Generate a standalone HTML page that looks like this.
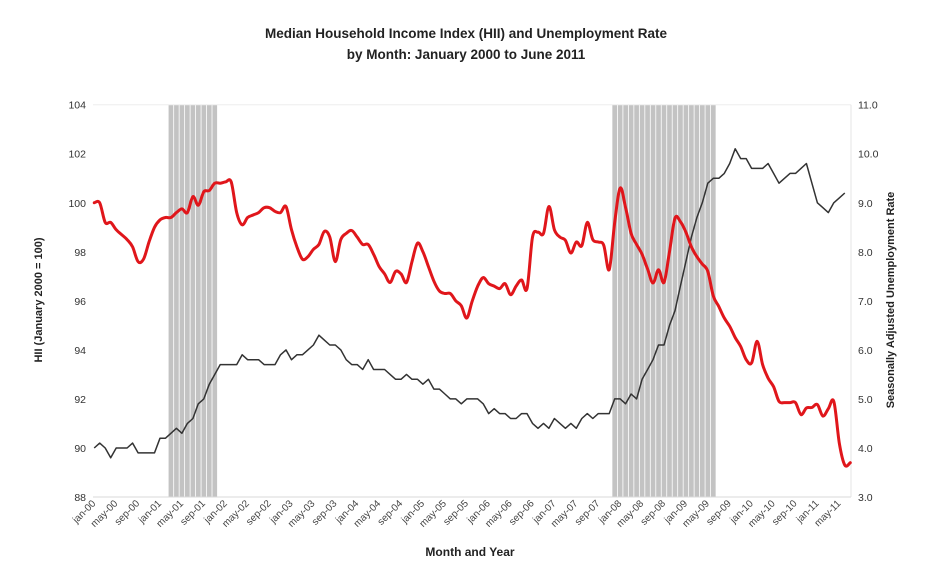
<!DOCTYPE html>
<html><head><meta charset="utf-8"><style>
body{margin:0;background:#fff;}
svg text{font-family:"Liberation Sans",sans-serif;}
</style></head><body>
<svg id="chart" width="933" height="575" viewBox="0 0 933 575" xmlns="http://www.w3.org/2000/svg">
<text x="466" y="38" text-anchor="middle" font-size="13.5" font-weight="bold" fill="#222">Median Household Income Index (HII) and Unemployment Rate</text>
<text x="466" y="59" text-anchor="middle" font-size="13.5" font-weight="bold" fill="#222">by Month: January 2000 to June 2011</text>
<text transform="translate(42,300) rotate(-90)" text-anchor="middle" font-size="11" font-weight="bold" fill="#222">HII (January 2000 = 100)</text>
<text transform="translate(894,300) rotate(-90)" text-anchor="middle" font-size="11" font-weight="bold" fill="#222">Seasonally Adjusted Unemployment Rate</text>
<text x="470" y="556" text-anchor="middle" font-size="12" font-weight="bold" fill="#222">Month and Year</text>
<g id="shade"></g>
<g id="axes"></g>
<g id="lines"></g>
</svg>
<script>
const hii=[100.0,100.0,99.2,99.2,98.9,98.7,98.5,98.2,97.6,97.7,98.4,99.0,99.3,99.4,99.4,99.6,99.75,99.6,100.25,99.9,100.45,100.5,100.8,100.8,100.85,100.85,99.6,99.1,99.4,99.5,99.6,99.8,99.8,99.65,99.6,99.85,98.9,98.2,97.7,97.8,98.1,98.3,98.83,98.6,97.6,98.5,98.75,98.87,98.6,98.3,98.3,97.9,97.4,97.1,96.75,97.2,97.1,96.75,97.6,98.35,98.0,97.4,96.8,96.4,96.3,96.3,96.0,95.8,95.3,96.0,96.6,96.95,96.7,96.6,96.5,96.7,96.25,96.6,96.85,96.5,98.6,98.8,98.75,99.85,98.9,98.6,98.47,97.95,98.4,98.25,99.2,98.5,98.4,98.27,97.27,99.2,100.6,99.8,98.75,98.3,97.9,97.3,96.73,97.27,96.75,98.0,99.37,99.23,98.8,98.2,97.8,97.5,97.2,96.2,95.77,95.3,94.96,94.5,94.14,93.6,93.47,94.35,93.4,92.85,92.5,91.9,91.85,91.85,91.85,91.36,91.63,91.65,91.77,91.3,91.6,91.9,90.2,89.3,89.4];
const unemp=[4.0,4.1,4.0,3.8,4.0,4.0,4.0,4.1,3.9,3.9,3.9,3.9,4.2,4.2,4.3,4.4,4.3,4.5,4.6,4.9,5.0,5.3,5.5,5.7,5.7,5.7,5.7,5.9,5.8,5.8,5.8,5.7,5.7,5.7,5.9,6.0,5.8,5.9,5.9,6.0,6.1,6.3,6.2,6.1,6.1,6.0,5.8,5.7,5.7,5.6,5.8,5.6,5.6,5.6,5.5,5.4,5.4,5.5,5.4,5.4,5.3,5.4,5.2,5.2,5.1,5.0,5.0,4.9,5.0,5.0,5.0,4.9,4.7,4.8,4.7,4.7,4.6,4.6,4.7,4.7,4.5,4.4,4.5,4.4,4.6,4.5,4.4,4.5,4.4,4.6,4.7,4.6,4.7,4.7,4.7,5.0,5.0,4.9,5.1,5.0,5.4,5.6,5.8,6.1,6.1,6.5,6.8,7.3,7.8,8.3,8.7,9.0,9.4,9.5,9.5,9.6,9.8,10.1,9.9,9.9,9.7,9.7,9.7,9.8,9.6,9.4,9.5,9.6,9.6,9.7,9.8,9.4,9.0,8.9,8.8,9.0,9.1,9.2];
const monthNames=["jan","feb","mar","apr","may","jun","jul","aug","sep","oct","nov","dec"];
const recessions=[[14,22],[95,113]];
const leftTicks=[88,90,92,94,96,98,100,102,104];
const rightTicks=[3,4,5,6,7,8,9,10,11];

const NS="http://www.w3.org/2000/svg";
const X0=91.5,X1=853,Y0=104.7,Y1=497;
const PL=93,PR=851;
const N=hii.length;
const step=(X1-X0)/N;
const xs=i=>X0+(i+0.5)*step;
const yL=v=>Y1-(v-88)/(104-88)*(Y1-Y0);
const yR=v=>Y1-(v-3)/(11-3)*(Y1-Y0);
function mk(tag,attrs,parent){const e=document.createElementNS(NS,tag);for(const k in attrs)e.setAttribute(k,attrs[k]);parent.appendChild(e);return e;}
const shade=document.getElementById('shade'),axes=document.getElementById('axes'),lines=document.getElementById('lines');

recessions.forEach((r,ri)=>{
  for(let m=r[0];m<=r[1];m++){
    const rc=mk('rect',{x:X0+m*step+0.4,y:Y0,width:step-0.8,height:Y1-Y0,fill:'#c3c3c3'},shade);
    
    
  }
});
mk('line',{x1:PL,y1:Y0,x2:PR,y2:Y0,stroke:'#eeeeee','stroke-width':1},axes);
const bl=mk('line',{x1:PL,y1:Y1,x2:PR,y2:Y1,stroke:'#d8d8d8','stroke-width':1},axes);


mk('line',{x1:PR,y1:Y0,x2:PR,y2:Y1,stroke:'#e4e4e4','stroke-width':1},axes);

leftTicks.forEach(v=>{
  const t=mk('text',{x:86,y:yL(v)+4,'text-anchor':'end','font-size':'10.5',fill:'#333'},axes);
  t.textContent=v;
  
  
});
rightTicks.forEach(v=>{
  const t=mk('text',{x:858,y:yR(v)+4,'font-size':'10.5',fill:'#333'},axes);
  t.textContent=v.toFixed(1);
  
  
});
for(let i=0;i<N;i+=4){
  const yr=String(Math.floor(i/12)).padStart(2,'0');
  const lbl=monthNames[i%12]+'-'+yr;
  const x=xs(i);
  const t=mk('text',{transform:`translate(${x+2},${Y1+7}) rotate(-45)`,'text-anchor':'end','font-size':'10',fill:'#444'},axes);
  t.textContent=lbl;
  
  
}
function smooth(pts){
  let d=`M${pts[0][0]},${pts[0][1]}`;
  for(let i=0;i<pts.length-1;i++){
    const p0=pts[i-1]||pts[i],p1=pts[i],p2=pts[i+1],p3=pts[i+2]||p2;
    const c1=[p1[0]+(p2[0]-p0[0])/6,p1[1]+(p2[1]-p0[1])/6];
    const c2=[p2[0]-(p3[0]-p1[0])/6,p2[1]-(p3[1]-p1[1])/6];
    d+=`C${c1[0].toFixed(1)},${c1[1].toFixed(1)} ${c2[0].toFixed(1)},${c2[1].toFixed(1)} ${p2[0].toFixed(1)},${p2[1].toFixed(1)}`;
  }
  return d;
}
const up=mk('polyline',{points:unemp.map((v,i)=>xs(i).toFixed(1)+','+yR(v).toFixed(1)).join(' '),fill:'none',stroke:'#333','stroke-width':1.5,'stroke-linejoin':'round'},lines);


const hp=mk('path',{d:smooth(hii.map((v,i)=>[xs(i),yL(v)])),fill:'none',stroke:'#e0161b','stroke-width':3,'stroke-linejoin':'round','stroke-linecap':'round'},lines);


</script>
</body></html>
